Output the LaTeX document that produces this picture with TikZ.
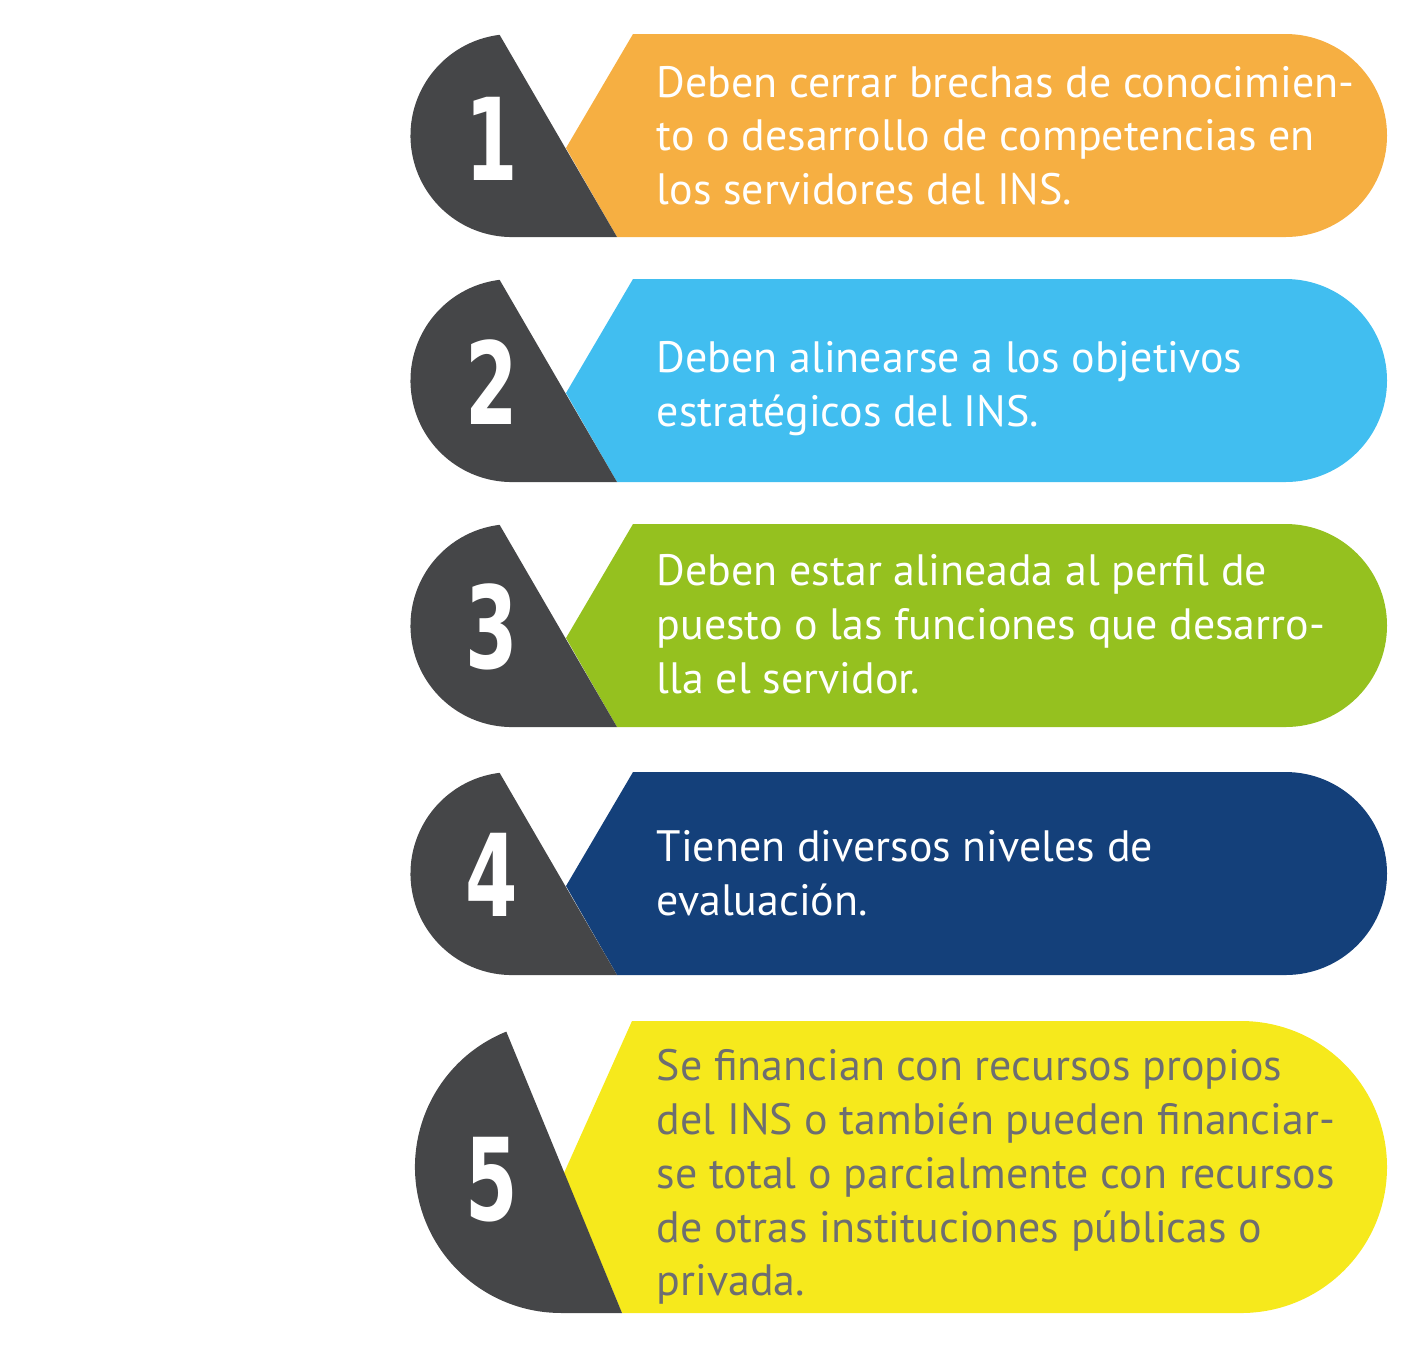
\documentclass[tikz,border=0pt]{standalone}
\usepackage{fontspec}
\setmainfont{PT Sans}
\newfontfamily\numfont{DejaVu Sans}
\usepackage{tikz}
\definecolor{darkgrey}{RGB}{69,70,72}
\definecolor{lightorange}{RGB}{246,175,66}
\definecolor{skyblue}{RGB}{65,190,240}
\definecolor{leafgreen}{RGB}{149,193,31}
\definecolor{navyblue}{RGB}{20,64,122}
\definecolor{brightyellow}{RGB}{246,233,28}
\definecolor{textgrey}{RGB}{109,110,113}

\begin{document}
\begin{tikzpicture}[
    tab/.style={draw=none, fill=darkgrey},
    band/.style={draw=none},
    number/.style={inner sep=0pt, text=white, font=\numfont\bfseries\fontsize{32.5}{32.5}\selectfont},
    item/.style={anchor=west, inner sep=0pt, align=left, text=white, font=\fontsize{12.5}{15.3}\selectfont}
]
    \useasboundingbox (0,0) rectangle (14.09,-13.50);

    % 1
    \fill[band, lightorange] (6.33,-0.34) -- (12.855,-0.34) arc[start angle=90, end angle=-90, radius=1.015] -- (6.17,-2.37) -- (5.66,-1.48) -- cycle;
    \fill[tab] (4.996,-0.348) arc[start angle=97, end angle=270, radius=1.015] -- (6.17,-2.37) -- cycle;
    \node[number] (num1) at (4.92,-1.385) {\scalebox{0.66}[1]{1}};
    \node[item] (txt1) at (6.56,-1.355) {Deben cerrar brechas de conocimien-\\to o desarrollo de competencias en\\los servidores del INS.};

    % 2
    \begin{scope}[yshift=-2.45cm]
    \fill[band, skyblue] (6.33,-0.34) -- (12.855,-0.34) arc[start angle=90, end angle=-90, radius=1.015] -- (6.17,-2.37) -- (5.66,-1.48) -- cycle;
    \fill[tab] (4.996,-0.348) arc[start angle=97, end angle=270, radius=1.015] -- (6.17,-2.37) -- cycle;
    \node[number] (num2) at (4.92,-1.37) {\scalebox{0.66}[1]{2}};
    \node[item] (txt2) at (6.56,-1.435) {Deben alinearse a los objetivos\\estratégicos del INS.};
    \end{scope}

    % 3
    \begin{scope}[yshift=-4.90cm]
    \fill[band, leafgreen] (6.33,-0.34) -- (12.855,-0.34) arc[start angle=90, end angle=-90, radius=1.015] -- (6.17,-2.37) -- (5.66,-1.48) -- cycle;
    \fill[tab] (4.996,-0.348) arc[start angle=97, end angle=270, radius=1.015] -- (6.17,-2.37) -- cycle;
    \node[number] (num3) at (4.92,-1.37) {\scalebox{0.66}[1]{3}};
    \node[item] (txt3) at (6.56,-1.34) {Deben estar alineada al perfil de\\puesto o las funciones que desarro-\\lla el servidor.};
    \end{scope}

    % 4
    \begin{scope}[yshift=-7.38cm]
    \fill[band, navyblue] (6.33,-0.34) -- (12.855,-0.34) arc[start angle=90, end angle=-90, radius=1.015] -- (6.17,-2.37) -- (5.66,-1.48) -- cycle;
    \fill[tab] (4.996,-0.348) arc[start angle=97, end angle=270, radius=1.015] -- (6.17,-2.37) -- cycle;
    \node[number] (num4) at (4.92,-1.37) {\scalebox{0.66}[1]{4}};
    \node[item] (txt4) at (6.56,-1.355) {Tienen diversos niveles de\\evaluación.};
    \end{scope}

    % 5
    \fill[band, brightyellow] (6.32,-10.21) -- (12.41,-10.21) arc[start angle=90, end angle=-90, radius=1.46] -- (6.22,-13.13) -- (5.64,-11.73) -- cycle;
    \fill[tab] (5.063,-10.316) arc[start angle=112, end angle=270, radius=1.46] -- (6.22,-13.13) -- cycle;
    \node[number] (num5) at (4.92,-11.80) {\scalebox{0.66}[1]{5}};
    \node[item, text=textgrey] (txt5) at (6.56,-11.77) {Se financian con recursos propios\\del INS o también pueden financiar-\\se total o parcialmente con recursos\\de otras instituciones públicas o\\privada.};
\end{tikzpicture}
\end{document}
